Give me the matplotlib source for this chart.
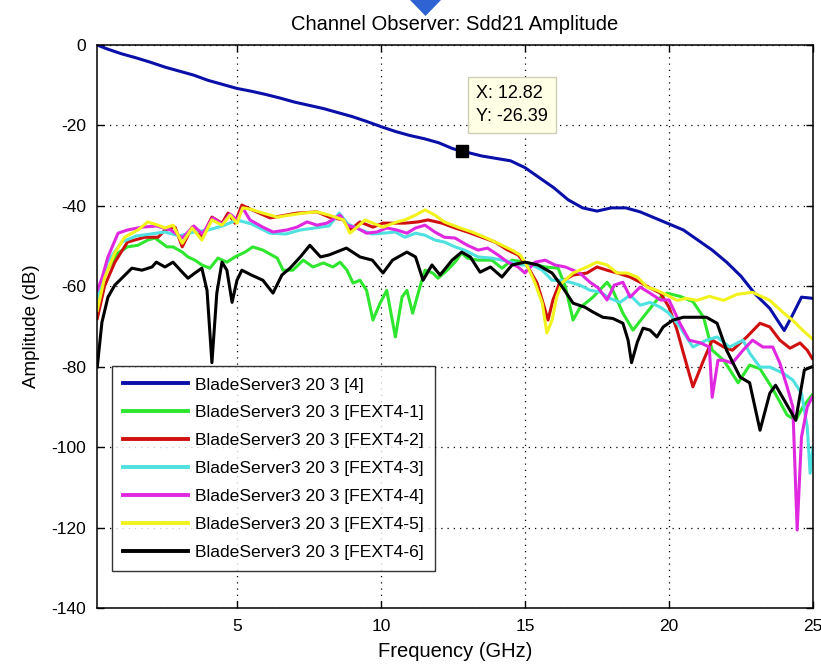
import matplotlib
matplotlib.use("Agg")
import matplotlib.pyplot as plt
from matplotlib.patches import Polygon

# ---------------------------------------------------------------------------
# Sdd21 amplitude traces (frequency in GHz, amplitude in dB)
# ---------------------------------------------------------------------------

f_thru = [0.15, 0.5, 1, 1.5, 2, 2.5, 3, 3.5, 4, 4.5, 5, 5.5, 6, 6.5, 7, 7.5, 8, 8.5,
          9, 9.5, 10, 10.5, 11, 11.5, 12, 12.5, 12.82, 13.5, 14, 14.5, 15, 15.5, 16,
          16.5, 17, 17.5, 18, 18.5, 19, 19.5, 20, 20.5, 21, 21.5, 22, 22.5, 23, 23.5,
          24, 24.3, 24.6, 25]
db_thru = [0, -1, -2.2, -3.2, -4.3, -5.5, -6.5, -7.5, -8.8, -9.8, -10.8, -11.5, -12.3,
           -13.2, -14.2, -15, -15.8, -16.8, -17.8, -19, -20.3, -21.5, -22.5, -23.3,
           -24.3, -25.8, -26.39, -27.6, -28.2, -28.8, -30.5, -33, -35.5, -38.5, -40.5,
           -41.3, -40.5, -40.5, -41.5, -43, -44.5, -46, -48.5, -51, -54, -57.5, -62,
           -65.5, -71, -67, -62.7, -63]

f_fext1 = [0.15, 0.4, 0.87, 1.2, 1.56, 1.9, 2.15, 2.4, 2.57, 2.78, 3.1, 3.3, 3.54, 3.78,
           4.06, 4.34, 4.65, 4.93, 5.28, 5.55, 5.9, 6.4, 6.6, 6.94, 7.3, 7.64, 8.0, 8.33,
           8.58, 8.82, 9.03, 9.27, 9.5, 9.72, 9.97, 10.2, 10.5, 10.73, 10.9, 11.1, 11.35,
           11.53, 11.8, 11.98, 12.3, 12.57, 12.8, 13.0, 13.37, 13.85, 14.2, 14.55, 15.0,
           15.7, 16.15, 16.4, 16.67, 16.9, 17.36, 17.85, 18.05, 18.4, 18.75, 19.1, 19.58,
           19.93, 20.38, 20.83, 21.2, 21.5, 21.9, 22.4, 22.8, 23.16, 23.6, 24.1, 24.4,
           24.65, 24.97]
db_fext1 = [-66, -57, -51.7, -50.2, -49.8, -48.5, -48, -49.3, -50.2, -50.2, -51.5, -52.7,
            -53.5, -54.7, -55.5, -53, -54, -52.7, -51.5, -50.2, -51, -53, -56, -56, -53.5,
            -55.2, -54.2, -55.2, -54, -56, -59.2, -58.5, -61, -68.4, -64.2, -61, -72.6,
            -62.7, -61, -66.7, -60.2, -56, -56.7, -58, -56, -54, -51.7, -53, -53.5, -53.5,
            -55.5, -53.5, -54, -55.2, -55.5, -60, -68.4, -65.4, -62.7, -59, -61, -66.7,
            -70.9, -67.7, -63.4, -61.7, -62.5, -63.8, -67.7, -75.9, -78.4, -84, -79.6,
            -80.5, -85.5, -92, -93.3, -90, -87]

f_fext2 = [0.15, 0.4, 0.76, 1.2, 1.8, 2.26, 2.5, 2.85, 3.1, 3.44, 3.78, 4.13, 4.48, 4.69,
           4.93, 5.17, 5.52, 6.15, 7.08, 7.78, 8.2, 8.7, 8.92, 9.27, 9.72, 10.07, 10.55,
           10.83, 11.28, 11.63, 12.12, 12.57, 13.0, 13.5, 13.96, 14.4, 14.76, 15.1, 15.42,
           15.63, 15.8, 15.97, 16.2, 16.67, 17.15, 17.5, 17.85, 18.2, 18.65, 19.0, 19.34,
           19.7, 20.0, 20.28, 20.5, 20.83, 21.2, 21.5, 21.9, 22.2, 22.7, 23.16, 23.5,
           23.85, 24.2, 24.55, 24.8, 24.97]
db_fext2 = [-68, -60, -54, -49, -47.8, -47.8, -46, -45.3, -50.2, -45.3, -47.8, -42.8,
            -44.3, -41.8, -44.3, -39.8, -41, -43, -41.8, -41.5, -42.8, -43.5, -46, -44,
            -45.3, -44.3, -44.3, -44.3, -44, -43.5, -44.3, -45.5, -46.5, -47.8, -49, -51,
            -52.2, -55.2, -59.2, -64.2, -68.4, -63.4, -59.2, -57.2, -56.7, -55.2, -56,
            -56.7, -57.7, -59, -60.4, -61.7, -65.2, -70.9, -76.6, -85, -78.4, -73.4,
            -75.1, -75.9, -72.6, -69.2, -70.1, -73.4, -75.4, -74.1, -75.9, -77.9]

f_fext3 = [0.15, 0.5, 1.0, 1.5, 2.0, 2.5, 3.0, 3.5, 4.0, 4.5, 5.0, 5.5, 6.15, 6.7, 7.2,
           7.7, 8.2, 8.55, 8.85, 9.3, 9.7, 10.07, 10.5, 10.83, 11.2, 11.53, 11.87, 12.2,
           12.57, 12.9, 13.37, 13.85, 14.2, 14.55, 14.9, 15.24, 15.6, 15.94, 16.28, 16.56,
           16.9, 17.26, 17.6, 17.95, 18.3, 18.65, 19.0, 19.34, 19.7, 20.0, 20.38, 20.83,
           21.3, 21.67, 22.1, 22.57, 22.8, 23.16, 23.5, 23.96, 24.3, 24.6, 24.8, 24.9, 25.0]
db_fext3 = [-63, -54, -49, -47.5, -47, -46.5, -47.5, -46.5, -46, -45, -43.5, -44.5, -46.8,
            -47, -46, -45.5, -45, -41.8, -44.5, -46, -47, -46.8, -46.5, -47.8, -46.8,
            -47.3, -48.5, -49, -50.2, -51, -52.7, -53, -53.5, -54, -54.7, -54.7, -56,
            -58.5, -58.5, -59, -59.7, -61, -61.4, -63, -64, -62.2, -64.7, -64, -65.2,
            -66.7, -70.1, -75.1, -73.4, -72.6, -75.1, -73.4, -76.6, -80.1, -80.1, -81.6,
            -83.3, -86.6, -95, -106.5, -100]

f_fext4 = [0.15, 0.31, 0.52, 0.87, 1.2, 1.7, 2.2, 2.7, 3.1, 3.5, 3.8, 4.15, 4.5, 4.75,
           5.0, 5.2, 5.45, 5.9, 6.25, 6.73, 7.08, 7.43, 7.78, 8.12, 8.58, 8.82, 9.17, 9.5,
           9.86, 10.2, 10.55, 10.9, 11.2, 11.53, 11.87, 12.2, 12.57, 13.0, 13.37, 13.7,
           14.06, 14.4, 14.76, 15.0, 15.35, 15.7, 16.04, 16.4, 16.9, 17.26, 17.54, 17.85,
           18.1, 18.4, 18.65, 19.0, 19.34, 19.7, 20.0, 20.38, 20.7, 21.1, 21.4, 21.5,
           21.7, 21.9, 22.2, 22.57, 22.9, 23.26, 23.6, 23.85, 24.1, 24.3, 24.45, 24.6,
           24.8, 24.97]
db_fext4 = [-61, -58, -52.7, -46.8, -46, -45.3, -45, -46, -48, -45, -47, -43, -44.5, -42,
            -43.5, -40.5, -43.5, -45.3, -46.5, -46, -45.3, -44, -44.8, -44.3, -42.3,
            -44.8, -45.5, -46.8, -46.5, -45.5, -46, -46.8, -45.5, -44.8, -46.5, -47.8,
            -48, -49.8, -51, -50.5, -52.2, -54, -55.2, -56.7, -54, -53.5, -54.7, -55.2,
            -56.7, -59, -60.4, -63.4, -59.7, -59, -62.7, -60.2, -61.7, -63.4, -63.4,
            -69.2, -73.4, -74.1, -75.1, -87.6, -78.4, -78.4, -79.1, -75.9, -73.4, -75.1,
            -75.1, -79.1, -85, -90, -120.6, -97.5, -90, -87.6]

f_fext5 = [0.15, 0.4, 0.76, 1.1, 1.56, 1.9, 2.26, 2.5, 2.78, 3.1, 3.44, 3.78, 4.13, 4.48,
           4.76, 5.0, 5.2, 5.45, 5.9, 6.4, 6.84, 7.3, 7.78, 8.2, 8.7, 8.92, 9.17, 9.44,
           9.72, 10.07, 10.55, 10.83, 11.2, 11.53, 11.87, 12.2, 12.67, 13.16, 13.6, 14.06,
           14.55, 14.83, 15.1, 15.35, 15.6, 15.76, 15.94, 16.1, 16.28, 16.67, 17.15, 17.5,
           17.85, 18.2, 18.54, 18.9, 19.24, 19.58, 19.93, 20.28, 20.6, 20.97, 21.4, 21.9,
           22.36, 22.9, 23.5, 23.96, 24.3, 24.65, 24.97]
db_fext5 = [-66, -58, -51.7, -47.8, -46, -44, -44.8, -45.5, -44.8, -49.3, -45.5, -48.5,
            -43.5, -44.8, -42.3, -44.3, -40.5, -40.8, -41.8, -42.8, -42.3, -41.8, -41.5,
            -42.3, -43.5, -46.8, -45.3, -43.5, -44.3, -45.3, -44, -43.5, -42.3, -41,
            -42.3, -44, -45.3, -46.5, -47.8, -49.3, -51, -52.2, -55.2, -59.2, -64.2,
            -71.6, -68.4, -62.7, -59.2, -56.7, -55.2, -54, -54.7, -56.7, -56.7, -57.7,
            -60.2, -61, -62.2, -63.5, -63, -63.5, -62.5, -63.5, -62, -61.5, -63.5, -66.5,
            -68.5, -71, -73]

f_fext6 = [0.15, 0.31, 0.52, 0.76, 1.0, 1.35, 1.7, 2.05, 2.2, 2.5, 2.78, 3.1, 3.3, 3.54,
           3.78, 3.96, 4.13, 4.3, 4.48, 4.65, 4.83, 5.0, 5.17, 5.5, 5.9, 6.25, 6.56, 6.84,
           7.2, 7.53, 7.9, 8.2, 8.8, 9.27, 9.7, 10.07, 10.4, 10.9, 11.2, 11.46, 11.77,
           12.05, 12.47, 12.8, 13.1, 13.44, 13.8, 14.2, 14.55, 15.0, 15.45, 15.94, 16.3,
           16.67, 17.08, 17.36, 17.7, 18.05, 18.4, 18.58, 18.7, 18.9, 19.1, 19.34, 19.58,
           19.8, 20.14, 20.5, 20.8, 21.3, 21.67, 22.0, 22.47, 22.8, 23.16, 23.5, 23.7,
           24.0, 24.4, 24.7, 24.97]
db_fext6 = [-80, -69, -62.7, -59.7, -58, -55.5, -56, -55.2, -54, -55.2, -54, -56.5, -58,
            -56.7, -55.5, -61, -79, -61.7, -54, -56, -64, -58.5, -56, -57.2, -58.5, -61.7,
            -57.2, -55.5, -52.7, -49.8, -52.7, -52.2, -50.5, -52.7, -53.5, -56.7, -53.5,
            -51.5, -52.7, -58.5, -54.7, -57.2, -53.5, -51.5, -52.7, -56.5, -55.2, -57.7,
            -54.7, -54, -54.7, -56.7, -60.2, -64.2, -65.2, -66.4, -67.7, -68, -69.2,
            -73.4, -79, -73.9, -70.4, -70.9, -72.6, -70.1, -68.4, -67.7, -67.7, -67.7,
            -69.2, -75.9, -82.6, -84, -95.8, -86.6, -84.6, -88.3, -93.3, -80.8, -80]

labels = ["BladeServer3 20 3 [4]",
          "BladeServer3 20 3 [FEXT4-1]",
          "BladeServer3 20 3 [FEXT4-2]",
          "BladeServer3 20 3 [FEXT4-3]",
          "BladeServer3 20 3 [FEXT4-4]",
          "BladeServer3 20 3 [FEXT4-5]",
          "BladeServer3 20 3 [FEXT4-6]"]
colors = ["#0a0fa8", "#2ee62e", "#d01010", "#4fe0e0", "#e028e0", "#f2f21c", "#000000"]

x_ticks = [5, 10, 15, 20, 25]
y_ticks = [0, -20, -40, -60, -80, -100, -120, -140]

tip_f, tip_db = 12.82, -26.39

# ---------------------------------------------------------------------------
# Figure
# ---------------------------------------------------------------------------

plt.rcParams["font.family"] = ["Liberation Sans", "DejaVu Sans"]
plt.rcParams["axes.unicode_minus"] = False

fig = plt.figure(figsize=(8.21, 6.68), dpi=100)
fig.patch.set_facecolor("white")
ax = fig.add_axes([97 / 821, 1 - 608 / 668, 716 / 821, 563 / 668])

series = [(f_thru, db_thru), (f_fext1, db_fext1), (f_fext2, db_fext2),
          (f_fext3, db_fext3), (f_fext4, db_fext4), (f_fext5, db_fext5),
          (f_fext6, db_fext6)]
for (f, db), lab, col in zip(series, labels, colors):
    ax.plot(f, db, color=col, lw=2.2, label=lab, solid_joinstyle="round")

ax.set_xlim(0.14, 25)
ax.set_ylim(-140, 0)
ax.set_xticks(x_ticks)
ax.set_yticks(y_ticks)
ax.grid(True, color="black", linestyle=(0, (1, 4)), linewidth=0.9)
ax.tick_params(direction="in", top=True, right=True, length=5, width=1,
               labelsize=12.5, pad=8)
for sp in ax.spines.values():
    sp.set_linewidth(1.1)

ax.set_title("Channel Observer: Sdd21 Amplitude", fontsize=14.5, pad=11)
ax.set_xlabel("Frequency (GHz)", fontsize=14.5, labelpad=6)
ax.set_ylabel("Amplitude (dB)", fontsize=13.5, labelpad=8)

leg = ax.legend(loc="upper left", bbox_to_anchor=(0.021, 0.43), borderaxespad=0,
                fontsize=12.6, handlelength=3.7, handletextpad=0.4,
                labelspacing=0.72, borderpad=0.65, frameon=True, fancybox=False)
leg.get_frame().set_edgecolor("black")
leg.get_frame().set_linewidth(1.0)
for h in leg.get_lines():
    h.set_linewidth(2.8)

# data cursor
ax.plot([tip_f], [tip_db], marker="s", markersize=9, color="black", zorder=10)
ax.annotate(f"X: {tip_f:.2f}\nY: {tip_db:.2f}", xy=(tip_f, tip_db),
            xytext=(10, 19), textcoords="offset points", fontsize=13,
            ha="left", va="bottom", linespacing=1.45,
            bbox=dict(boxstyle="square,pad=0.45", fc="#ffffe6", ec="#cfcfb8", lw=1),
            zorder=11)

# blue marker peeking in at the top edge
fig.patches.append(Polygon([(410 / 821, 1.0), (441 / 821, 1.0), (425.5 / 821, 1 - 16 / 668)],
                           closed=True, transform=fig.transFigure,
                           facecolor="#2f62d2", edgecolor="none"))

fig.savefig("out.png", dpi=100, facecolor="white")
